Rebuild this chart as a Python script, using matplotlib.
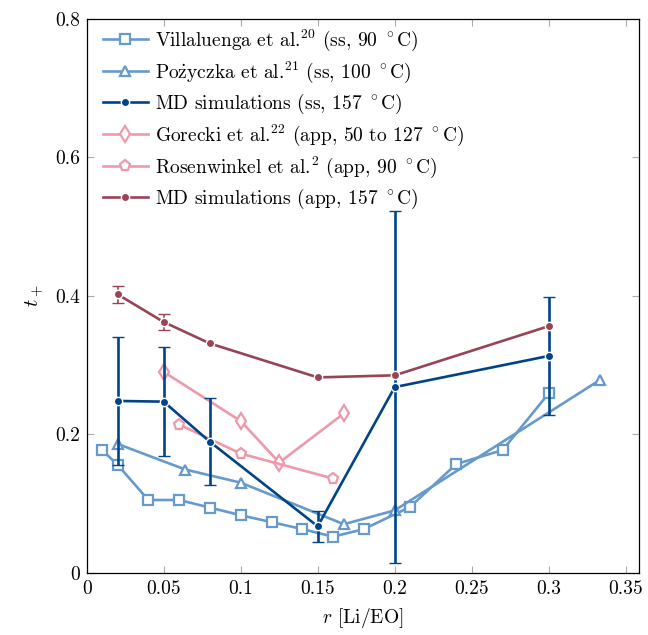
import numpy as np
import matplotlib
matplotlib.use("Agg")
import matplotlib.pyplot as plt
import matplotlib.ticker as ticker

# LaTeX-like look
plt.rcParams['font.family'] = 'serif'
plt.rcParams['font.serif'] = ['cmr10', 'DejaVu Serif']
plt.rcParams['mathtext.fontset'] = 'cm'
plt.rcParams['axes.formatter.use_mathtext'] = True
plt.rcParams['font.size'] = 14

# ---- data
villa_r = [0.01, 0.02, 0.04, 0.06, 0.08, 0.10, 0.12, 0.14, 0.16, 0.18, 0.21, 0.24, 0.27, 0.30]
villa_t = [0.177, 0.156, 0.105, 0.105, 0.094, 0.083, 0.073, 0.063, 0.052, 0.063, 0.095, 0.157, 0.177, 0.259]

pozy_r = [0.02, 0.064, 0.10, 0.167, 0.20, 0.333]
pozy_t = [0.186, 0.149, 0.130, 0.070, 0.090, 0.278]

mdss_r = [0.02, 0.05, 0.08, 0.15, 0.20, 0.30]
mdss_t = [0.248, 0.247, 0.189, 0.067, 0.268, 0.313]
mdss_err = [0.093, 0.079, 0.063, 0.022, 0.254, 0.085]

gore_r = [0.05, 0.10, 0.125, 0.167]
gore_t = [0.290, 0.219, 0.159, 0.230]

rose_r = [0.06, 0.10, 0.16]
rose_t = [0.214, 0.172, 0.136]

mdapp_r = [0.02, 0.05, 0.08, 0.15, 0.20, 0.30]
mdapp_t = [0.402, 0.362, 0.331, 0.282, 0.285, 0.356]
mdapp_err = [0.012, 0.012, np.nan, np.nan, np.nan, np.nan]

labels = [r"Villaluenga et al.$^{20}$ (ss, 90 $^\circ$C)",
          r"Po$\dot{\mathrm{z}}$yczka et al.$^{21}$ (ss, 100 $^\circ$C)",
          r"MD simulations (ss, 157 $^\circ$C)",
          r"Gorecki et al.$^{22}$ (app, 50 to 127 $^\circ$C)",
          r"Rosenwinkel et al.$^{2}$ (app, 90 $^\circ$C)",
          r"MD simulations (app, 157 $^\circ$C)"]

lblue = '#6699CC'
dblue = '#004488'
pink = '#EE99AA'
dred = '#994455'
lw = 1.9

fig = plt.figure(figsize=(6.48, 6.35), dpi=100)
ax = fig.add_axes([0.1338, 0.0981, 0.8528, 0.8725])

h1, = ax.plot(villa_r, villa_t, color=lblue, lw=lw, marker='s', ms=7.5, mfc='white',
              mec=lblue, mew=1.6, zorder=2)
h2, = ax.plot(pozy_r, pozy_t, color=lblue, lw=lw, marker='^', ms=7.5, mfc='white',
              mec=lblue, mew=1.6, zorder=2)
e3 = ax.errorbar(mdss_r, mdss_t, yerr=mdss_err, color=dblue, lw=lw, marker='o', ms=6,
                 mfc=dblue, mec='white', mew=1.0, ecolor=dblue, elinewidth=lw,
                 capsize=4, capthick=1.5, zorder=4)
h4, = ax.plot(gore_r, gore_t, color=pink, lw=lw, marker='d', ms=8.5, mfc='white',
              mec=pink, mew=1.6, zorder=3)
h5, = ax.plot(rose_r, rose_t, color=pink, lw=lw, marker='p', ms=8, mfc='white',
              mec=pink, mew=1.6, zorder=3)
e6 = ax.errorbar(mdapp_r, mdapp_t, yerr=mdapp_err, color=dred, lw=lw, marker='o', ms=6,
                 mfc=dred, mec='white', mew=1.0, ecolor=dred, elinewidth=1.2,
                 capsize=4, capthick=1.2, zorder=5)

ax.set_xlim(0, 0.3588)
ax.set_ylim(0, 0.8)
ax.set_xticks(np.arange(0, 0.351, 0.05))
ax.set_yticks(np.arange(0, 0.81, 0.2))
ax.xaxis.set_major_formatter(ticker.FuncFormatter(lambda v, p: "%g" % round(v, 3)))
ax.yaxis.set_major_formatter(ticker.FuncFormatter(lambda v, p: "%g" % round(v, 3)))
ax.tick_params(direction='in', top=True, right=True, length=5, width=0.8,
               color='#aaaaaa', labelsize=14, pad=5)
for s in ax.spines.values():
    s.set_linewidth(0.9)

ax.set_xlabel(r"$r$ [Li/EO]", fontsize=14, labelpad=6)
ax.set_ylabel(r"$t_+$", fontsize=15, labelpad=6)

handles = [h1, h2, e3[0], h4, h5, e6[0]]
leg = ax.legend(handles, labels, loc='upper left', bbox_to_anchor=(0.005, 1.008),
                frameon=False, fontsize=14, handlelength=2.3, handletextpad=0.38,
                labelspacing=0.345, borderaxespad=0.3)

fig.savefig("out.png", dpi=100)
